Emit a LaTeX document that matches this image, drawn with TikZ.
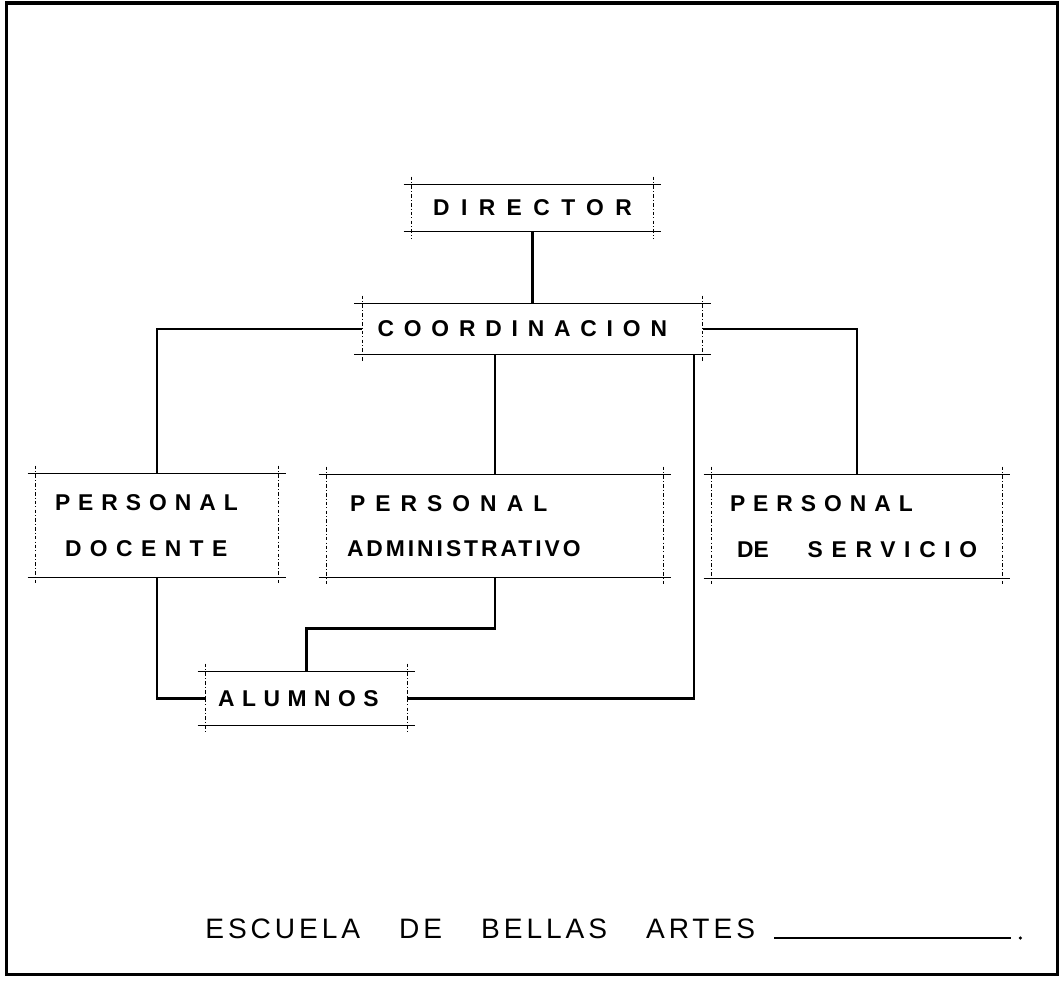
\documentclass[tikz,border=0pt]{standalone}
\usepackage{fontspec}
\newfontfamily\rotulo[LetterSpace=35]{Liberation Sans}
\newfontfamily\titulo[LetterSpace=14]{Liberation Sans}

% marco de dibujo tecnico alrededor de una caja
\newcommand{\marco}[1]{%
  \draw[borde] ([xshift=-0.16cm]#1.north west) -- ([xshift=0.16cm]#1.north east);
  \draw[borde] ([xshift=-0.16cm]#1.south west) -- ([xshift=0.16cm]#1.south east);
  \draw[guia] ([yshift=0.16cm]#1.north west) -- ([yshift=-0.16cm]#1.south west);
  \draw[guia] ([yshift=0.16cm]#1.north east) -- ([yshift=-0.16cm]#1.south east);
}

\begin{document}
\begin{tikzpicture}[x=0.02cm, y=-0.02cm,
  caja/.style={inner sep=0pt, align=left, font=\rotulo\bfseries\fontsize{13}{15}\selectfont},
  borde/.style={line width=0.9pt},
  guia/.style={line width=0.4pt, dash pattern=on 2pt off 1.2pt on 0.6pt off 1.2pt},
  linea/.style={line width=1.5pt}]
  \useasboundingbox (0,0) rectangle (1061,980);
  \draw[line width=1.8pt] (6.5,3) rectangle (1057.5,974.5);

  \node[caja, minimum width=4.82cm, minimum height=0.92cm] (dir) at (532.5,208) {\addfontfeature{LetterSpace=50}DIRECTOR};
  \node[caja, minimum width=6.8cm, minimum height=1cm, text width=6.2cm] (coord) at (532.5,329) {\addfontfeature{LetterSpace=43}COORDINACION};
  \node[caja, minimum width=4.84cm, minimum height=2.06cm, text width=4.08cm] (pd) at (157,525.5)
    {PERSONAL\\[11pt]\hspace*{0.2cm}{\addfontfeature{LetterSpace=37}DOCENTE}};
  \node[caja, minimum width=6.72cm, minimum height=2.04cm, text width=5.92cm] (pa) at (495,526)
    {\hspace*{0.06cm}{\addfontfeature{LetterSpace=44}PERSONAL}\\[11pt]{\addfontfeature{LetterSpace=13}ADMINISTRATIVO}};
  \node[caja, minimum width=5.8cm, minimum height=2.06cm, text width=5.08cm] (ps) at (857,526.5)
    {PERSONAL\\[11pt]\hspace*{0.14cm}{\addfontfeature{LetterSpace=0}DE}\hspace*{0.78cm}{\addfontfeature{LetterSpace=38}SERVICIO}};
  \node[caja, minimum width=4.02cm, minimum height=1.06cm, text width=3.54cm] (alum) at (306.5,698.5) {\addfontfeature{LetterSpace=33}ALUMNOS};

  \marco{dir}
  \marco{coord}
  \marco{pd}
  \marco{pa}
  \marco{ps}
  \marco{alum}

  \draw[linea] (dir.south) -- (coord.north);
  \draw[linea] (coord.west) -| (pd.north);
  \draw[linea] (coord.south -| pa.north) -- (pa.north);
  \draw[linea] (coord.east) -| (ps.north);
  \draw[linea] ([xshift=-0.18cm]coord.south east) |- (alum.east);
  \draw[linea] (pd.south) |- (alum.west);
  \draw[linea] (pa.south) -- ++(0,51) -| (alum.north);

  \node[inner sep=0pt, anchor=base west, font=\titulo\fontsize{16}{19}\selectfont] (titulo) at (205,938)
    {ESCUELA\hspace{0.78cm}DE\hspace{0.78cm}BELLAS\hspace{0.78cm}ARTES};
  \draw[line width=0.8pt] ([xshift=0.38cm]titulo.base east) -- ++(237,0);
  \fill ([xshift=5.3cm]titulo.base east) circle (1pt);
\end{tikzpicture}
\end{document}
